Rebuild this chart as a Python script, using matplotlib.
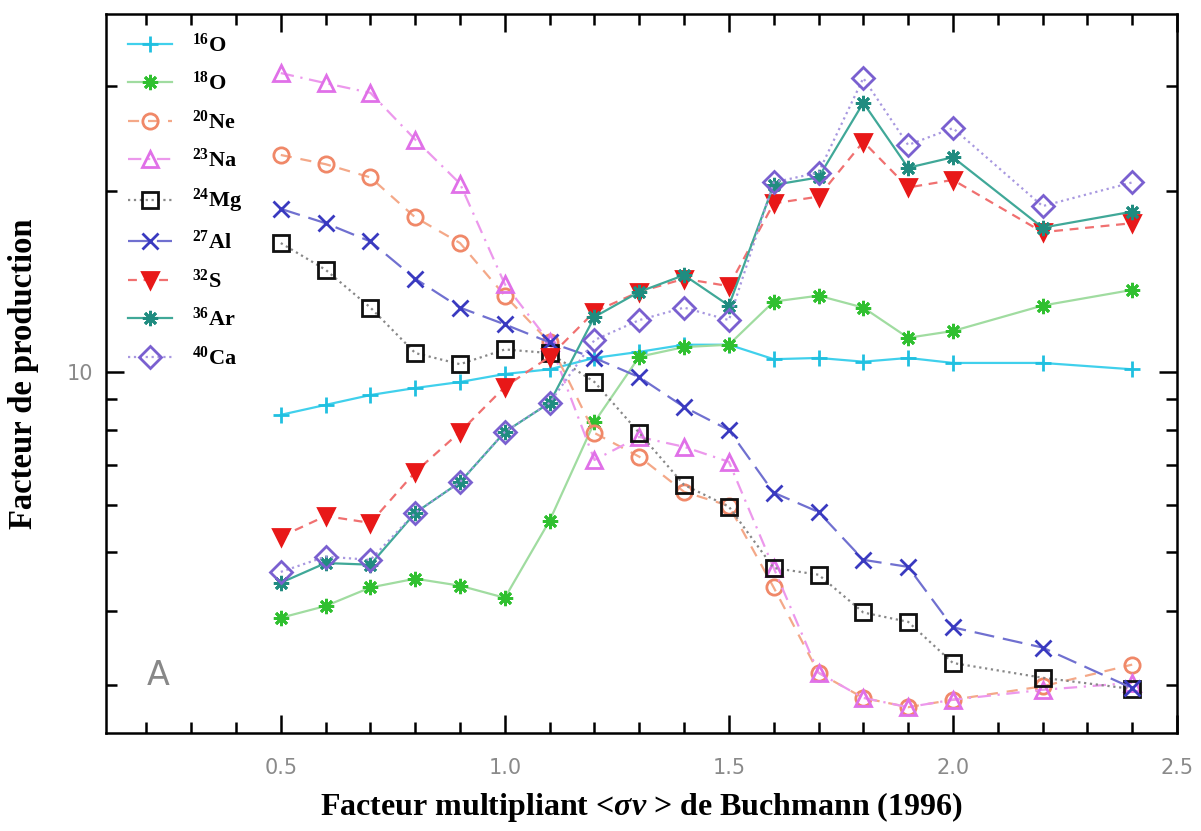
import numpy as np
import matplotlib
matplotlib.use("Agg")
import matplotlib.pyplot as plt
from matplotlib.ticker import FixedLocator, NullFormatter

plt.rcParams['mathtext.fontset'] = 'custom'
plt.rcParams['mathtext.rm'] = 'Liberation Serif:bold'
plt.rcParams['mathtext.bf'] = 'Liberation Serif:bold'
plt.rcParams['mathtext.it'] = 'Liberation Serif:bold:italic'

# facteur multipliant
x = [0.5, 0.6, 0.7, 0.8, 0.9, 1.0, 1.1, 1.2, 1.3, 1.4, 1.5, 1.6, 1.7, 1.8, 1.9, 2.0, 2.2, 2.4]

# facteurs de production
o16 = [8.48, 8.81, 9.15, 9.40, 9.62, 9.92, 10.1, 10.55, 10.8, 11.1, 11.1, 10.5, 10.55, 10.4, 10.55, 10.35, 10.35, 10.1]
o18 = [3.89, 4.07, 4.37, 4.52, 4.40, 4.20, 5.65, 8.25, 10.6, 11.0, 11.1, 13.1, 13.4, 12.8, 11.4, 11.7, 12.9, 13.7]
ne20 = [23.0, 22.2, 21.1, 18.1, 16.4, 13.4, 11.2, 7.91, 7.22, 6.31, 5.98, 4.37, 3.15, 2.86, 2.76, 2.84, 2.99, 3.25]
na23 = [31.5, 30.3, 29.2, 24.4, 20.6, 14.0, 11.2, 7.13, 7.79, 7.50, 7.08, 4.71, 3.15, 2.86, 2.76, 2.84, 2.95, 3.03]
mg24 = [16.4, 14.8, 12.8, 10.75, 10.3, 10.9, 10.75, 9.62, 7.91, 6.48, 5.96, 4.71, 4.59, 3.97, 3.83, 3.27, 3.09, 2.96]
al27 = [18.7, 17.7, 16.5, 14.3, 12.8, 12.0, 11.2, 10.55, 9.8, 8.74, 8.0, 6.29, 5.84, 4.86, 4.73, 3.75, 3.47, 2.97]
s32 = [5.31, 5.75, 5.60, 6.81, 7.94, 9.44, 10.6, 12.6, 13.6, 14.3, 13.9, 19.1, 19.6, 24.2, 20.3, 20.9, 17.1, 17.7]
ar36 = [4.45, 4.80, 4.77, 5.82, 6.55, 7.94, 8.88, 12.35, 13.6, 14.5, 12.9, 20.5, 21.1, 28.1, 21.9, 22.8, 17.4, 18.5]
ca40 = [4.64, 4.92, 4.86, 5.82, 6.55, 7.94, 8.88, 11.3, 12.2, 12.8, 12.2, 20.7, 21.5, 30.9, 23.9, 25.5, 18.9, 20.7]

labels = [r'$^{16}$O', r'$^{18}$O', r'$^{20}$Ne', r'$^{23}$Na', r'$^{24}$Mg',
          r'$^{27}$Al', r'$^{32}$S', r'$^{36}$Ar', r'$^{40}$Ca']

asterisk = (8, 2, 0)

fig = plt.figure(figsize=(12.01, 8.31), dpi=100)
ax = fig.add_axes([0.0883, 0.118, 0.8917, 0.865])

# (data, couleur ligne, couleur marqueur, style, marqueur, remplissage)
series = [
    (o16, '#40d0ec', '#20c0e0', '-', '+', 'none'),
    (o18, '#a0dca0', '#30c030', '-', asterisk, 'none'),
    (ne20, '#f4a888', '#f08868', (0, (5, 4)), 'o', 'none'),
    (na23, '#ec98ec', '#e070e8', (0, (6, 3, 1, 3)), '^', 'none'),
    (mg24, '#888888', '#111111', ':', 's', 'none'),
    (al27, '#7070d0', '#3a3ac0', (0, (9, 4)), 'x', 'none'),
    (s32, '#f07070', '#e81818', (0, (4, 3)), 'v', 'fill'),
    (ar36, '#40a898', '#208c80', '-', asterisk, 'none'),
    (ca40, '#a898e0', '#7a60d0', ':', 'D', 'none'),
]

for (vals, lc, mc, ls, mk, fill), lab in zip(series, labels):
    ax.plot(x, vals, color=lc, linestyle=ls, linewidth=1.6,
            marker=mk, markersize=11, markeredgecolor=mc, markeredgewidth=2,
            markerfacecolor=mc if fill == 'fill' else 'none', label=lab)

ax.set_yscale('log')
ax.set_xlim(0.11, 2.5)
ax.set_ylim(2.5, 39.5)

ax.yaxis.set_major_locator(FixedLocator([10]))
ax.yaxis.set_minor_locator(FixedLocator([3, 4, 5, 6, 7, 8, 9, 20, 30]))
ax.yaxis.set_major_formatter(plt.FixedFormatter(['10']))
ax.yaxis.set_minor_formatter(NullFormatter())
ax.xaxis.set_major_locator(FixedLocator([0.5, 1.0, 1.5, 2.0, 2.5]))
ax.xaxis.set_minor_locator(FixedLocator(np.arange(0.2, 2.45, 0.1)))
ax.set_xticklabels(['0.5', '1.0', '1.5', '2.0', '2.5'])

ax.tick_params(which='both', direction='in', top=True, right=True,
               width=1.8, labelsize=15, labelcolor='#8a8a8a')
ax.tick_params(axis='x', pad=18)
ax.tick_params(axis='y', pad=9)
ax.tick_params(which='major', length=13)
ax.tick_params(which='minor', length=8)
for sp in ax.spines.values():
    sp.set_linewidth(1.8)

ax.text(0.2, 3.0, 'A', fontsize=24, color='#888888')

ax.set_xlabel(r'Facteur multipliant <$\sigma v$ > de Buchmann (1996)',
              fontsize=23, fontweight='bold', family='Liberation Serif', labelpad=9)
ax.set_ylabel('Facteur de production', fontsize=23.5, fontweight='bold',
              family='Liberation Serif', labelpad=20)

ax.legend(loc='upper left', bbox_to_anchor=(0.01, 0.989), frameon=False,
          prop={'family': 'Liberation Serif', 'weight': 'bold', 'size': 16},
          handlelength=2.0, labelspacing=0.69, handletextpad=0.9, borderaxespad=0.1)

fig.savefig('out.png', dpi=100)
